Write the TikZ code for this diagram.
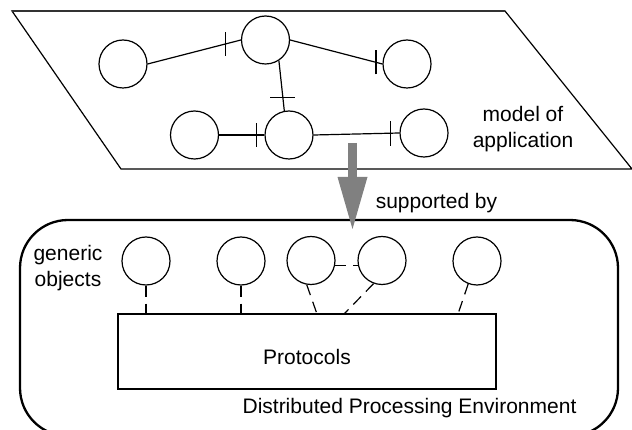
\documentclass[tikz,border=0pt]{standalone}
\usepackage{fontspec}
\setmainfont{Liberation Sans}
\usetikzlibrary{arrows.meta,calc}
\definecolor{arrowgray}{HTML}{808080}
\definecolor{topgray}{HTML}{333333}
\begin{document}
\begin{tikzpicture}[x=1pt,y=-1pt,
  obj/.style={circle,draw,line width=1.2pt,minimum size=48pt,inner sep=0pt},
  link/.style={line width=1.2pt},
  tickmark/.style={line width=1.2pt},
  dlink/.style={line width=1.2pt,dash pattern=on 11pt off 7pt},
  lbl/.style={font=\fontsize{21}{26}\selectfont,inner sep=0pt,align=center}]
\clip (0,0) rectangle (632,430);
% model of application plane
\draw[line width=1.2pt,line join=miter] (12,11) -- (505,11) -- (632,169) -- (121,169) -- cycle;
\draw[line width=2.2pt,topgray] (12,11) -- (505,11);
\node[obj] (A) at (123,64) {};
\node[obj] (B) at (265.5,40) {};
\node[obj] (C) at (407,64) {};
\node[obj] (D) at (194.5,135) {};
\node[obj] (E) at (289,135) {};
\node[obj] (F) at (424,133) {};
\draw[link] (A.east) -- coordinate[pos=0.836] (tAB) (B.west);
\draw[tickmark] ([yshift=-12pt]tAB) -- ([yshift=12pt]tAB);
\draw[link] (B.east) -- coordinate[pos=0.93] (tBC) (C.west);
\draw[tickmark] ([yshift=-12pt]tBC) -- ([yshift=12pt]tBC);
\draw[link] (B.-57) -- coordinate[pos=0.73] (tBE) (E.101);
\draw[tickmark] ([xshift=-12.5pt]tBE) -- ([xshift=12.5pt]tBE);
\draw[link] (D.east) -- coordinate[pos=0.82] (tDE) (E.west);
\draw[tickmark] ([yshift=-12pt]tDE) -- ([yshift=12pt]tDE);
\draw[link] (E.east) -- coordinate[pos=0.897] (tEF) (F.west);
\draw[tickmark] ([yshift=-12.5pt]tEF) -- ([yshift=12.5pt]tEF);
\node[lbl] (mo) at (523,129) {model of\\application};
% environment
\draw[line width=2.3pt,rounded corners=48pt] (20,220) rectangle (618,436);
\node[lbl] (sup) at (436.5,203) {supported by};
\node[lbl] (gen) at (68,268) {generic\\objects};
\node[draw,line width=1.2pt,minimum width=378pt,minimum height=75pt,inner sep=0pt] (P) at (307,351.5) {};
\node[lbl] (ptxt) at (307,357) {Protocols};
\node[lbl] (dpe) at (409.5,408) {Distributed Processing Environment};
\node[obj] (g1) at (146,261) {};
\node[obj] (g2) at (241,261) {};
\node[obj] (g3) at (311,260.5) {};
\node[obj] (g4) at (382,260.5) {};
\node[obj] (g5) at (477,261) {};
\coordinate (p3) at (317,314);
\coordinate (p4) at (344,314);
\coordinate (p5) at (458,314);
\draw[dlink] (g1.south) -- (g1.south |- P.north);
\draw[dlink] (g2.south) -- (g2.south |- P.north);
\draw[dlink] (g3.-100) -- (p3);
\draw[dlink] (g3.-12) -- (g4.192);
\draw[dlink] (g4.-110) -- (p4);
\draw[dlink] (g5.-111) -- (p5);
% supported-by arrow
\coordinate (aS) at (352.5,143);
\coordinate (aE) at (352.5,229);
\draw[arrowgray,line width=9pt,-{Triangle[width=30pt,length=52pt,line width=0pt]}] (aS) -- (aE);
\end{tikzpicture}
\end{document}
